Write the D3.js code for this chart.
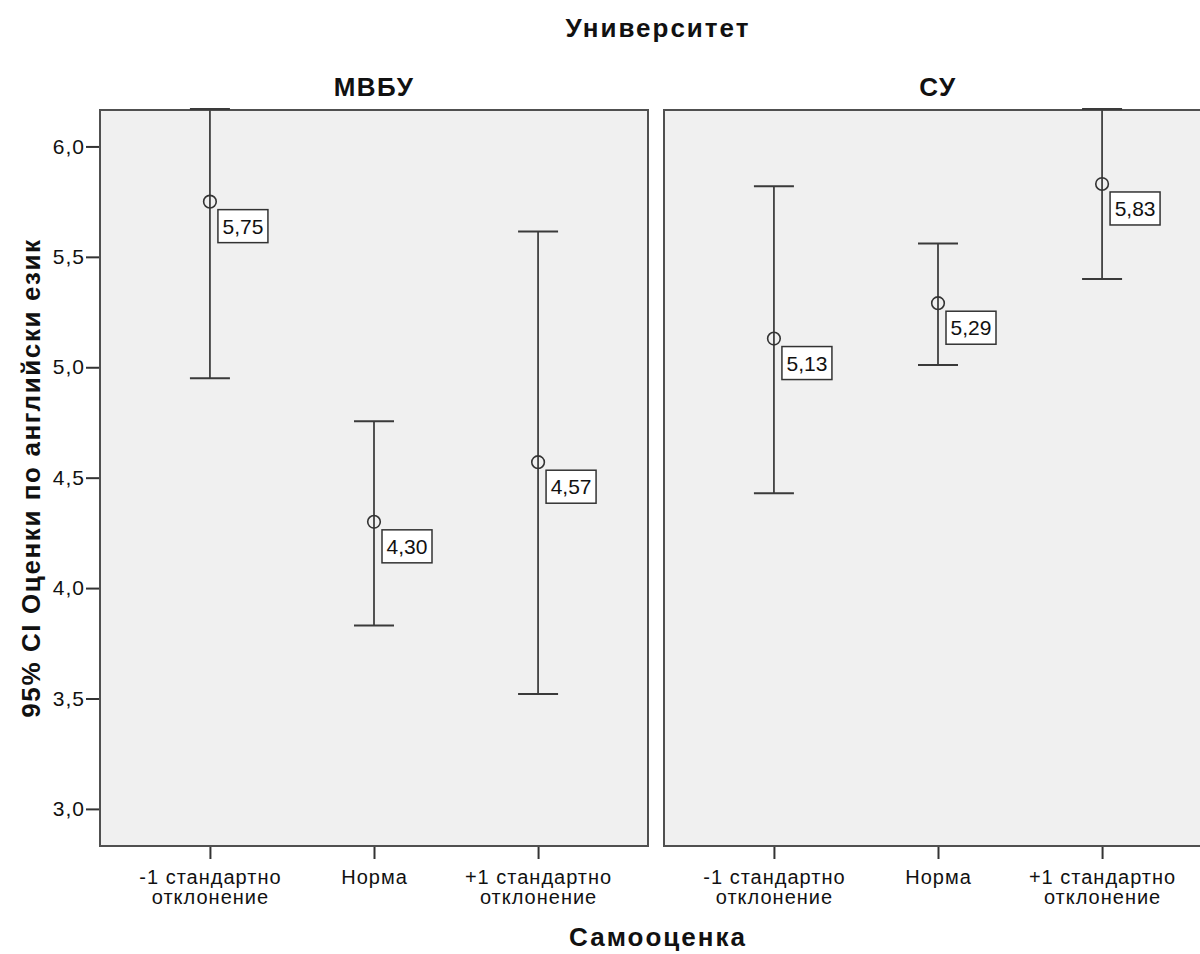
<!DOCTYPE html>
<html>
<head>
<meta charset="utf-8">
<script src="https://cdn.jsdelivr.net/npm/d3@7"></script>
<style>
  body { margin: 0; background: #fff; }
  text { font-family: "Liberation Sans", Arial, sans-serif; fill: #111; }
</style>
</head>
<body>
<div id="chart-area"></div>
<script>
// data
var universities = ["МВБУ", "СУ"];
var categories = ["-1 стандартно\nотклонение", "Норма", "+1 стандартно\nотклонение"];
var meansMVBU = [5.75, 4.30, 4.57];
var lowerMVBU = [4.95, 3.83, 3.52];
var upperMVBU = [6.17, 4.755, 5.615];
var meansSU = [5.13, 5.29, 5.83];
var lowerSU = [4.43, 5.01, 5.40];
var upperSU = [5.82, 5.56, 6.17];
var yTicks = [3.0, 3.5, 4.0, 4.5, 5.0, 5.5, 6.0];

var width = 1200, height = 954;
var panelTop = 110, panelBottom = 846;
var panels = [
  {name: universities[0], x0: 100, x1: 648, means: meansMVBU, lower: lowerMVBU, upper: upperMVBU},
  {name: universities[1], x0: 664, x1: 1212, means: meansSU, lower: lowerSU, upper: upperSU}
];

var comma = function(f) { return function(v) { return d3.format(f)(v).replace(".", ","); }; };

var svg = d3.select("#chart-area")
  .append("svg")
    .attr("width", width)
    .attr("height", height);

var y = d3.scaleLinear()
  .domain([2.832, 6.165])
  .range([panelBottom, panelTop]);

panels.forEach(function(p, i) {
  var x = d3.scalePoint()
    .domain(categories)
    .range([p.x0, p.x1])
    .padding(0.67);

  svg.append("clipPath")
    .attr("id", "clip" + i)
    .append("rect")
      .attr("x", p.x0 - 1).attr("y", panelTop - 2)
      .attr("width", p.x1 - p.x0 + 2).attr("height", panelBottom - panelTop + 4);

  // panel background and frame
  svg.append("rect")
    .attr("x", p.x0).attr("y", panelTop)
    .attr("width", p.x1 - p.x0).attr("height", panelBottom - panelTop)
    .attr("fill", "#f0f0f0")
    .attr("stroke", "#505050")
    .attr("stroke-width", 2);

  // panel title
  svg.append("text")
    .attr("x", (p.x0 + p.x1) / 2)
    .attr("y", 96)
    .attr("text-anchor", "middle")
    .style("font-size", "26px")
    .style("font-weight", "bold")
    .style("letter-spacing", "1.5px")
    .text(p.name);

  // x axis
  var xAxis = svg.append("g")
    .attr("transform", "translate(0," + (panelBottom + 1) + ")")
    .call(d3.axisBottom(x).tickSize(12).tickFormat(""));
  xAxis.select(".domain").remove();
  xAxis.selectAll(".tick line").attr("stroke", "#333").attr("stroke-width", 2);
  xAxis.selectAll(".tick").each(function(d) {
    var t = d3.select(this).append("text")
      .attr("text-anchor", "middle")
      .style("font-size", "20px")
      .style("letter-spacing", "1px");
    d.split("\n").forEach(function(line, k) {
      t.append("tspan").attr("x", 0).attr("y", 37 + k * 20).text(line);
    });
  });

  var g = svg.append("g").attr("clip-path", "url(#clip" + i + ")");
  var pts = categories.map(function(c, k) {
    return {cat: c, mean: p.means[k], lo: p.lower[k], hi: p.upper[k]};
  });

  // error bars
  g.selectAll(".whisker").data(pts).enter().append("line")
    .attr("x1", function(d) { return x(d.cat); })
    .attr("x2", function(d) { return x(d.cat); })
    .attr("y1", function(d) { return y(d.lo); })
    .attr("y2", function(d) { return y(d.hi); })
    .attr("stroke", "#404040").attr("stroke-width", 1.8);

  ["lo", "hi"].forEach(function(key) {
    g.selectAll(".cap-" + key).data(pts).enter().append("line")
      .attr("x1", function(d) { return x(d.cat) - 20; })
      .attr("x2", function(d) { return x(d.cat) + 20; })
      .attr("y1", function(d) { return y(d[key]); })
      .attr("y2", function(d) { return y(d[key]); })
      .attr("stroke", "#3a3a3a").attr("stroke-width", 2);
  });

  g.selectAll("circle").data(pts).enter().append("circle")
    .attr("cx", function(d) { return x(d.cat); })
    .attr("cy", function(d) { return y(d.mean); })
    .attr("r", 6.3)
    .attr("fill", "none")
    .attr("stroke", "#333").attr("stroke-width", 1.6);

  // value labels
  var lab = svg.selectAll(".lab" + i).data(pts).enter().append("g")
    .attr("transform", function(d) { return "translate(" + (x(d.cat) + 8) + "," + (y(d.mean) + 8) + ")"; });
  lab.append("rect")
    .attr("width", 50).attr("height", 33)
    .attr("fill", "#fff")
    .attr("stroke", "#333").attr("stroke-width", 1.5);
  lab.append("text")
    .attr("x", 25).attr("y", 24)
    .attr("text-anchor", "middle")
    .style("font-size", "21px")
    .text(function(d) { return comma(".2f")(d.mean); });
});

// y axis
var yAxis = svg.append("g")
  .attr("transform", "translate(99,0)")
  .call(d3.axisLeft(y).tickValues(yTicks).tickSize(13).tickPadding(1).tickFormat(comma(".1f")));
yAxis.select(".domain").remove();
yAxis.selectAll(".tick line").attr("stroke", "#333").attr("stroke-width", 2);
yAxis.selectAll(".tick text")
  .style("font-size", "21px")
  .style("letter-spacing", "1px")
  .style("font-family", "Liberation Sans, Arial, sans-serif")
  .attr("fill", "#111");

// titles
svg.append("text")
  .attr("x", 658).attr("y", 37)
  .attr("text-anchor", "middle")
  .style("font-size", "26px").style("font-weight", "bold")
  .style("letter-spacing", "2px")
  .text("Университет");

svg.append("text")
  .attr("x", 658).attr("y", 946)
  .attr("text-anchor", "middle")
  .style("font-size", "26px").style("font-weight", "bold")
  .style("letter-spacing", "2px")
  .text("Самооценка");

svg.append("text")
  .attr("transform", "translate(40,478) rotate(-90)")
  .attr("text-anchor", "middle")
  .style("font-size", "26px").style("font-weight", "bold")
  .style("letter-spacing", "1.6px")
  .text("95% CI Оценки по английски език");
</script>
</body>
</html>
